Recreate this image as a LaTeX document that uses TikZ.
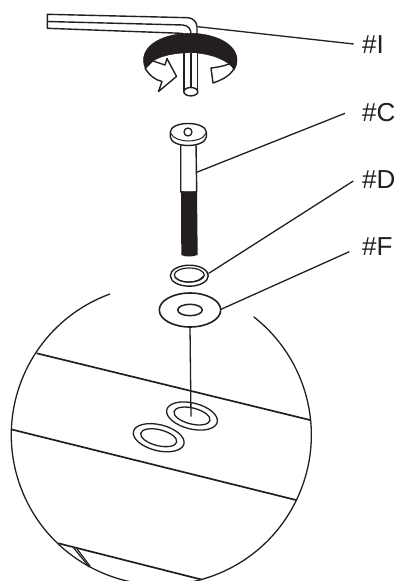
\documentclass[tikz,border=0pt]{standalone}
\usepackage{fontspec}
\setmainfont{Liberation Sans}
\definecolor{ink}{HTML}{231F20}
\tikzset{
 lbl/.style={anchor=base west,inner sep=0pt,font=\fontsize{26}{30}\selectfont,text=ink},
 leader/.style={draw=ink,line width=1.3pt},
 part/.style={draw=ink,line width=1.4pt,fill=white,line join=round},
 band/.style={draw=ink,line width=1.7pt},
 solid ink/.style={fill=ink,draw=ink,line width=.5pt}
}
\begin{document}
\begin{tikzpicture}[x=1pt,y=-1pt]
\clip (0,0) rectangle (398,581);
\fill[white] (0,0) rectangle (398,581);
% labels
\node[lbl] (lI) at (362,53.5) {\#I};
\node[lbl] (lC) at (362,121) {\#C};
\node[lbl] (lD) at (362,188) {\#D};
\node[lbl] (lF) at (362,255.5) {\#F};
\coordinate (eI) at (353.7,44);
\coordinate (eC) at (345,113.3);
\coordinate (eD) at (353.3,181);
\coordinate (eF) at (349.3,251.7);
% zoomed circle
\draw[ink,line width=1.3pt] (110,294) arc[start angle=250,end angle=-52,radius=150];
\draw[band] (36.7,353.3) -- (310,420);
\draw[band] (11,429.3) -- (296,500);
\draw[band] (58.3,543.3) -- (201.7,579.6);
\draw[ink,line width=1.2pt] (73.3,547.5) -- (89.3,567);
\draw[ink,line width=1.2pt] (76,547.5) -- (90,566);
% holes
\draw[ink,line width=1.3pt,rotate around={-14:(192,416)}] (192,416) ellipse[x radius=26,y radius=13] (192,416) ellipse[x radius=18.5,y radius=8];
\draw[ink,line width=1.3pt,rotate around={-14:(158.7,437.7)}] (158.7,437.7) ellipse[x radius=26,y radius=13] (158.7,437.7) ellipse[x radius=18.5,y radius=8];
% flat washer
\coordinate (wfB) at (190,326.7);
\coordinate (holeC) at (191,416.7);
\draw[leader] (wfB) -- (holeC);
\draw[part,line width=1.6pt] (190,310) ellipse[x radius=30.7,y radius=17];
\draw[ink,line width=1.5pt] (190,310) ellipse[x radius=12.3,y radius=5.7];
\draw[leader] (221,309.3) -- (eF);
% spring washer
\draw[part] (189.3,275.7) ellipse[x radius=19,y radius=10.5];
\draw[ink,line width=1.2pt] (189.3,275) ellipse[x radius=15,y radius=7];
\draw[ink,line width=1.2pt] (175,277) .. controls (180,284) and (198,284) .. (203.5,276);
\draw[leader] (208.5,273.5) -- (eD);
% bolt
\draw[part] (180.7,143) -- (180.7,192) -- (196.7,192) -- (196,143);
\fill[ink] (181,191) .. controls (185,192) and (192,192) .. (197,191) -- (197.7,255) .. controls (192,257) and (185,257) .. (181.3,255) -- cycle;
\draw[part] (170.3,134) -- (170.3,137) .. controls (171,142) and (178,145.5) .. (188.3,145.5) .. controls (198,145.5) and (205.7,142) .. (206.3,137) -- (206.3,132) .. controls (206,127) and (198,123.5) .. (188.3,123.5) .. controls (178,123.5) and (170.6,127) .. (170.3,132) -- cycle;
\draw[ink,line width=1pt] (170.5,133) .. controls (173,139) and (182,141) .. (188.3,141) .. controls (195,141) and (204,139) .. (206,133);
\draw[ink,line width=1.3pt] (188,132) circle[radius=4];
\draw[leader] (196.7,172.3) -- (eC);
% hex key
\draw[leader] (197.7,26.7) -- (eI);
\draw[part] (47.3,14.3) -- (188,17.7) .. controls (193,18) and (197,22) .. (197,27) -- (197,50) -- (184,50) -- (184,36) .. controls (184,34) and (183,33.3) .. (181.7,33.3) -- (47.3,28.3) -- cycle;
\draw[ink,line width=1.4pt] (47.3,21.5) -- (183,25) .. controls (188,25.5) and (191,29) .. (191,34) -- (191,50);
% ring band
\path[solid ink] (143.5,60) .. controls (143.5,44) and (165,33.3) .. (190,33.3) .. controls (215,33.3) and (237,44) .. (237,60) .. controls (237,63) and (236,67) .. (234,70) .. controls (231,62) and (212,52.7) .. (190,52.7) .. controls (175,52.7) and (160,56) .. (153,61) .. controls (150,64) and (147,67) .. (145.5,69) .. controls (144,66) and (143.5,63) .. (143.5,60) -- cycle;
% lower shaft
\fill[white] (184,53) rectangle (197.7,92);
\draw[ink,line width=1.4pt] (184,53) -- (184,91.7) (197.7,53) -- (197.7,91.7) (191,53) -- (191,88);
\draw[part] (190.8,91.7) ellipse[x radius=7,y radius=4.2];
% left arrow
\draw[part,fill=none] (145,68) .. controls (149,75) and (155,80) .. (162,81.5) -- (158.5,91.5) -- (176.5,76.5) -- (167,58.5) -- (165,65) -- (153,61);
% right arrow
\draw[part,fill=none] (236.5,62) .. controls (235,71) and (228,78) .. (213,83) -- (211,68) .. controls (220,67) and (228,65) .. (233,62);
\end{tikzpicture}
\end{document}
